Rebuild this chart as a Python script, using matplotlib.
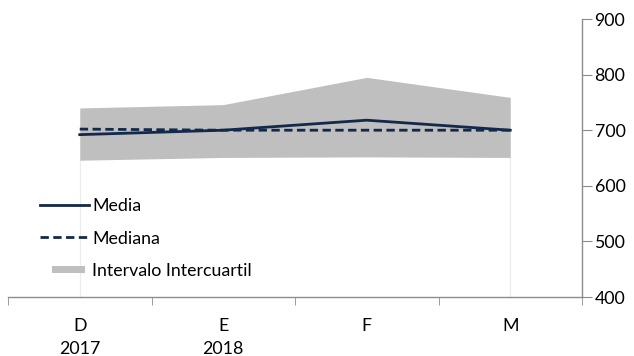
import matplotlib
matplotlib.use("Agg")
from matplotlib import pyplot as plt
from matplotlib.patches import Patch, Rectangle
from matplotlib.lines import Line2D
from matplotlib.legend_handler import HandlerPatch

plt.rcParams['font.family'] = ['Lato', 'DejaVu Sans']

categorias = ["D\n2017", "E\n2018", "F", "M"]
q1 = [646, 651, 652, 651]
q3 = [740, 746, 795, 759]
media = [692, 700, 718, 700]
mediana = [702, 700, 700, 700]

navy = "#13294b"
gris = "#bfbfbf"
eje = "#8c8c8c"
fs = 12.8

fig = plt.figure(figsize=(6.34, 3.56), dpi=100)
ax = fig.add_axes([8 / 634, 1 - 297 / 356, 574 / 634, 278 / 356])

x = list(range(len(categorias)))
ax.fill_between(x, q1, q3, color=gris, linewidth=0, zorder=1)
# lineas tenues de la serie base
for i in (0, len(x) - 1):
    ax.plot([x[i], x[i]], [400, q1[i]], color="#ececec", lw=0.8, zorder=0.5)
ax.plot(x, media, color=navy, lw=2.0, zorder=3)
ax.plot(x, mediana, color=navy, lw=2.0, ls=(0, (3, 1.6)), zorder=3)

ax.set_xlim(-0.5, 3.5)
ax.set_ylim(400, 900)
ax.set_yticks([400, 500, 600, 700, 800, 900])
ax.yaxis.tick_right()
ax.tick_params(axis="y", direction="out", length=7, color=eje, labelsize=fs,
               pad=2, labelcolor="black")
ax.set_xticks(x)
ax.set_xticklabels(categorias, fontsize=fs, linespacing=1.55)
ax.set_xticks([-0.5, 0.5, 1.5, 2.5, 3.5], minor=True)
ax.tick_params(axis="x", which="major", length=0, pad=15)
ax.tick_params(axis="x", which="minor", direction="out", length=6, color=eje)

for s in ("top", "left"):
    ax.spines[s].set_visible(False)
for s in ("bottom", "right"):
    ax.spines[s].set_color(eje)
    ax.spines[s].set_linewidth(1.0)


def caja_chica(legend, orig_handle, xdescent, ydescent, width, height, fontsize):
    return Rectangle((-xdescent + 0.25 * width, -ydescent + 0.2 * height),
                     0.68 * width, 0.6 * height)


handles = [Line2D([], [], color=navy, lw=2.0),
           Line2D([], [], color=navy, lw=2.0, ls=(0, (3, 1.6))),
           Patch(facecolor=gris, edgecolor="none")]
labels = ["Media", "Mediana", "Intervalo Intercuartil"]
leg = ax.legend(handles, labels, loc="lower left", bbox_to_anchor=(32 / 574, 0.065),
                frameon=False, fontsize=fs, handlelength=2.75, handletextpad=0.2,
                labelspacing=0.92, borderaxespad=0, borderpad=0,
                handler_map={Patch: HandlerPatch(patch_func=caja_chica)})

fig.savefig("out.png", dpi=100)
